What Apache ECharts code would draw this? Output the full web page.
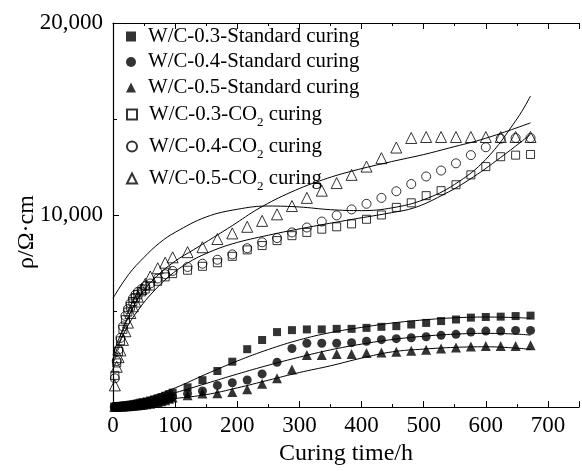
<!DOCTYPE html>
<html>
<head>
<meta charset="utf-8">
<script src="https://cdn.jsdelivr.net/npm/echarts@6/dist/echarts.min.js"></script>
<style>
html,body{margin:0;padding:0;background:#fff;}
#chart{width:582px;height:471px;}
</style>
</head>
<body>
<div id="chart"></div>
<script>
// ---------- data ----------
const xTicks = [0, 100, 200, 300, 400, 500, 600, 700];
const yTicks = [10000, 20000];

const stdTimes = [2, 5, 8, 11, 14, 17, 20, 24, 28, 32, 36, 40, 44, 48, 54, 60, 66, 72, 78, 84, 90, 96,
  120, 144, 168, 192, 216, 240, 264, 288, 312, 336, 360, 384, 408, 432, 456, 480, 504, 528, 552, 576, 600, 624, 648, 672];
const std03 = [30, 40, 50, 60, 70, 80, 90, 110, 130, 150, 170, 200, 230, 260, 300, 350, 400, 460, 520, 590, 670, 755,
  1030, 1400, 1880, 2364, 3016, 3494, 3905, 4008, 4044, 4044, 4075, 4075, 4126, 4180, 4214, 4300, 4383, 4480, 4560, 4660, 4692, 4710, 4740, 4763];
const std04 = [20, 25, 30, 35, 40, 45, 50, 60, 70, 80, 95, 110, 125, 140, 170, 200, 240, 290, 340, 400, 460, 530,
  704, 838, 1130, 1268, 1410, 1730, 2330, 3049, 3325, 3325, 3325, 3357, 3427, 3510, 3562, 3613, 3664, 3736, 3787, 3905, 3957, 3957, 3993, 3993];
const std05 = [10, 15, 20, 25, 30, 35, 40, 50, 60, 70, 80, 95, 110, 125, 150, 180, 220, 260, 310, 360, 430, 498,
  617, 704, 720, 788, 925, 1217, 1507, 1953, 2708, 2708, 2760, 2760, 2811, 2842, 2878, 2929, 2980, 3049, 3099, 3150, 3186, 3186, 3186, 3222];

const co2Times = [3, 6, 9, 12, 16, 20, 24, 28, 32, 36, 40, 46, 52, 60, 72, 84, 96,
  120, 144, 168, 192, 216, 240, 264, 288, 312, 336, 360, 384, 408, 432, 456, 480, 504, 528, 552, 576, 600, 624, 648, 672];
const co203 = [1650, 2300, 2900, 3450, 4050, 4550, 4950, 5250, 5500, 5700, 5850, 6000, 6150, 6300, 6550, 6780, 6950,
  7127, 7330, 7518, 7850, 8186, 8412, 8669, 8926, 9096, 9265, 9388, 9540, 9779, 10005, 10400, 10637, 11010, 11270, 11578, 12092, 12523, 13037, 13120, 13155];
const co204 = [1500, 2400, 3000, 3600, 4200, 4750, 5100, 5400, 5650, 5850, 6000, 6150, 6300, 6439, 6696, 6921, 7091,
  7297, 7467, 7672, 7950, 8273, 8582, 8803, 9096, 9352, 9661, 9985, 10293, 10586, 10894, 11238, 11614, 12009, 12317, 12693, 13120, 13531, 13977, 14013, 14013];
const co205 = [1130, 2100, 2600, 2950, 3500, 3950, 4400, 4900, 5250, 5500, 5750, 6150, 6420, 6800, 7230, 7520, 7800,
  8068, 8325, 8751, 9044, 9388, 9696, 10036, 10468, 10894, 11270, 11665, 12092, 12523, 12960, 13515, 14013, 14064, 14064, 14064, 14064, 14064, 14064, 14064, 14064];

// fitted curves
const fitStdX = [45, 100, 150, 200, 250, 300, 350, 400, 450, 500, 550, 600, 650, 672];
const fitStd03 = [350, 1000, 1720, 2400, 3000, 3500, 3880, 4150, 4380, 4540, 4650, 4690, 4660, 4620];
const fitStd04 = [300, 750, 1230, 1720, 2180, 2600, 2980, 3280, 3520, 3690, 3800, 3840, 3800, 3750];
const fitStd05 = [250, 450, 650, 1000, 1400, 1800, 2150, 2550, 2880, 3020, 3110, 3140, 3070, 3000];

const fitCo2AX = [0, 25, 50, 75, 100, 150, 200, 250, 300, 350, 400, 450, 500, 550, 600, 650, 672];
const fitCo2A = [5670, 6900, 7800, 8550, 9100, 9900, 10300, 10470, 10420, 10280, 10230, 10380, 10800, 11600, 12900, 15000, 16200];
const fitCo2BX = [0, 10, 25, 44, 70, 100, 130, 162, 192, 235, 287, 339, 386, 448, 500, 542, 600, 672];
const fitCo2B = [2700, 3600, 4700, 5840, 6800, 7600, 8200, 8840, 9450, 10350, 11200, 11850, 12300, 12780, 13150, 13500, 14000, 14800];
const fitCo2CX = [0, 10, 25, 44, 60, 90, 120, 150, 192, 250, 312, 386, 448, 485, 528, 573, 624, 672];
const fitCo2C = [2500, 3300, 4300, 5200, 5840, 6800, 7500, 8000, 8500, 8950, 9352, 9780, 10123, 10380, 11000, 11835, 13000, 14200];

const names = ['W/C-0.3-Standard curing', 'W/C-0.4-Standard curing', 'W/C-0.5-Standard curing',
  'W/C-0.3-CO2 curing', 'W/C-0.4-CO2 curing', 'W/C-0.5-CO2 curing'];

// ---------- chart ----------
const FONT = 'Liberation Serif';
const pair = (xs, ys) => xs.map((x, i) => [x, ys[i]]);

function scatter(name, xs, ys, symbol, size, filled) {
  return {
    type: 'scatter', name: name, data: pair(xs, ys), symbol: symbol, symbolSize: size,
    itemStyle: filled ? { color: '#000' } : { color: 'rgba(0,0,0,0)', borderColor: '#000', borderWidth: 1 },
    z: 3, silent: true
  };
}
function fit(xs, ys) {
  return {
    type: 'line', data: pair(xs, ys), smooth: 0.4, showSymbol: false, symbol: 'none',
    lineStyle: { color: '#000', width: 1 }, z: 2, silent: true
  };
}

const chart = echarts.init(document.getElementById('chart'), null, { renderer: 'canvas' });
const FS = 20.8;
const legendText = {
  fontFamily: FONT, fontSize: FS, color: '#000',
  rich: {
    p: { fontFamily: FONT, fontSize: FS, color: '#000', padding: [0, 0, 0, 7] },
    m: { fontFamily: FONT, fontSize: FS, color: '#000' },
    sub: { fontFamily: FONT, fontSize: 13, color: '#000', padding: [16, 0, 0, 0], verticalAlign: 'bottom' }
  }
};
const legendFmt = n => {
  const i = n.indexOf('CO2');
  if (i < 0) return '{p|' + n + '}';
  return '{p|' + n.slice(0, i) + 'CO}{sub|2}{m|' + n.slice(i + 3) + '}';
};

const option = {
  animation: false,
  backgroundColor: '#fff',
  grid: { left: 113, top: 23, right: -11, bottom: 59 },
  legend: [
    {
      data: names.slice(0, 3), left: 121, top: 21, orient: 'vertical', itemGap: 4.5,
      itemWidth: 10, itemHeight: 10, padding: 5, textStyle: legendText, formatter: legendFmt,
      selectedMode: false
    },
    {
      data: names.slice(3), left: 121, top: 99, orient: 'vertical', itemGap: 7,
      itemWidth: 10, itemHeight: 10, padding: 5, textStyle: legendText, formatter: legendFmt,
      selectedMode: false
    }
  ],
  xAxis: [
    {
      type: 'value', min: 0, max: 750, interval: 100,
      name: 'Curing time/h', nameLocation: 'middle', nameGap: 29,
      nameTextStyle: { fontFamily: FONT, fontSize: 24, color: '#000' },
      axisLine: { show: true, onZero: false, lineStyle: { color: '#000', width: 1.2 } },
      axisTick: { show: true, inside: true, length: 6, lineStyle: { color: '#000' } },
      minorTick: { show: true, splitNumber: 2, length: 3, lineStyle: { color: '#000' } },
      splitLine: { show: false },
      axisLabel: {
        margin: 7, fontFamily: FONT, fontSize: 23, color: '#000',
        formatter: v => xTicks.indexOf(v) >= 0 ? String(v) : ''
      }
    },
    {
      type: 'value', min: 0, max: 750, interval: 100, position: 'top',
      axisLine: { show: true, onZero: false, lineStyle: { color: '#000', width: 1.2 } },
      axisTick: { show: true, inside: true, length: 6, lineStyle: { color: '#000' } },
      minorTick: { show: true, splitNumber: 2, length: 3, lineStyle: { color: '#000' } },
      splitLine: { show: false }, axisLabel: { show: false }
    }
  ],
  yAxis: {
    type: 'value', min: 0, max: 20000, interval: 10000,
    axisLine: { show: true, onZero: false, lineStyle: { color: '#000', width: 1.2 } },
    axisTick: { show: true, inside: true, length: 6, lineStyle: { color: '#000' } },
    minorTick: { show: true, splitNumber: 2, length: 4, lineStyle: { color: '#000' } },
    splitLine: { show: false },
    axisLabel: {
      margin: 10, fontFamily: FONT, fontSize: 23, color: '#000',
      formatter: v => yTicks.indexOf(v) >= 0 ? v.toLocaleString('en-US') : ''
    }
  },
  graphic: [{
    type: 'text', x: 27, y: 232, rotation: Math.PI / 2,
    style: { text: 'ρ/Ω·cm', font: '24px "Liberation Serif"', fill: '#000', align: 'center', verticalAlign: 'middle' }
  }],
  series: [
    fit(fitStdX, fitStd03), fit(fitStdX, fitStd04), fit(fitStdX, fitStd05),
    fit(fitCo2AX, fitCo2A), fit(fitCo2BX, fitCo2B), fit(fitCo2CX, fitCo2C),
    scatter(names[0], stdTimes, std03, 'rect', 8, true),
    scatter(names[1], stdTimes, std04, 'circle', 9, true),
    scatter(names[2], stdTimes, std05, 'triangle', 10, true),
    scatter(names[3], co2Times, co203, 'rect', 8, false),
    scatter(names[4], co2Times, co204, 'circle', 9, false),
    scatter(names[5], co2Times, co205, 'triangle', 11, false)
  ]
};
chart.setOption(option);
</script>
</body>
</html>
